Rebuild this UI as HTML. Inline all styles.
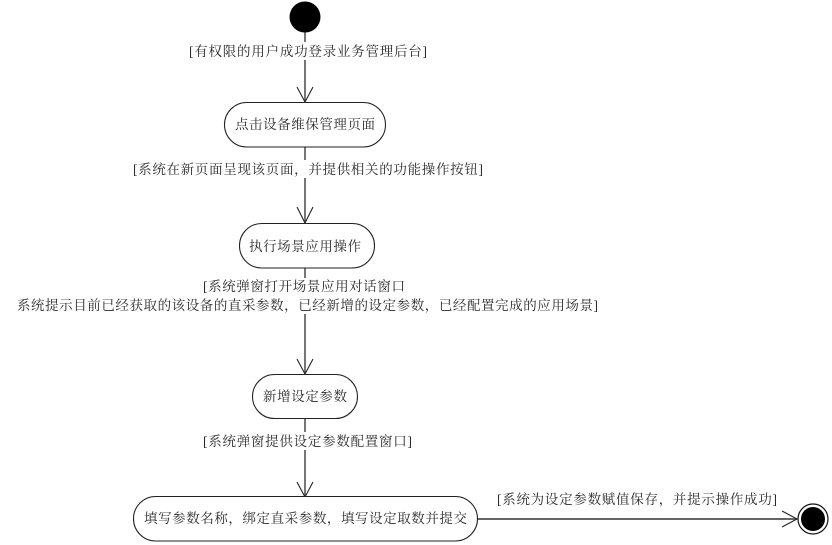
<!DOCTYPE html>
<html>
<head>
<meta charset="utf-8">
<style>
html,body{margin:0;padding:0;background:#fff;width:832px;height:545px;overflow:hidden}
svg{display:block}
text{font-family:"Liberation Serif","Noto Serif CJK SC",serif;font-size:13.5px;fill:#2a2a2a}
</style>
</head>
<body>
<svg width="832" height="545" viewBox="0 0 832 545" xmlns="http://www.w3.org/2000/svg">
<g stroke="#555" stroke-width="1.6" fill="none">
<path d="M305 32V42M305 60V101"/>
<path d="M305 147V160M305 178V222"/>
<path d="M305 268V278M305 314V373"/>
<path d="M305 418V432M305 450V496"/>
</g>
<path d="M478 519H797" stroke="#666" stroke-width="2" fill="none"/>
<g stroke="#222" stroke-width="1.1" fill="none">
<path d="M297 87L305 102L313 87"/>
<path d="M297 207L305 223L313 207"/>
<path d="M297 359L305 374L313 359"/>
<path d="M297 482L305 497L313 482"/>
<path d="M782 511L797 519L782 527"/>
</g>
<circle cx="305" cy="17" r="15.5" fill="#000"/>
<circle cx="813" cy="519" r="15" fill="#fff" stroke="#111" stroke-width="1.2"/>
<circle cx="813" cy="519" r="12" fill="#000"/>
<g fill="#fff" stroke="#222" stroke-width="1.1">
<rect x="224.5" y="102.5" width="161" height="44.5" rx="22.2" ry="22.2"/>
<rect x="239.5" y="223.5" width="135" height="44.5" rx="22.2" ry="22.2"/>
<rect x="252.5" y="374.5" width="105" height="44" rx="22" ry="22"/>
<rect x="133.5" y="496.5" width="344" height="44.5" rx="22.2" ry="22.2"/>
</g>
<text x="189" y="56" textLength="238" lengthAdjust="spacing">[有权限的用户成功登录业务管理后台]</text>
<text x="235" y="129" textLength="140" lengthAdjust="spacing">点击设备维保管理页面</text>
<text x="133" y="174" textLength="350" lengthAdjust="spacing">[系统在新页面呈现该页面&#xFF0C;并提供相关的功能操作按钮]</text>
<text x="249" y="251" textLength="112" lengthAdjust="spacing">执行场景应用操作</text>
<text x="203" y="291" textLength="202" lengthAdjust="spacing">[系统弹窗打开场景应用对话窗口</text>
<text x="17" y="310" textLength="581" lengthAdjust="spacing">系统提示目前已经获取的该设备的直采参数&#xFF0C;已经新增的设定参数&#xFF0C;已经配置完成的应用场景]</text>
<text x="263" y="401" textLength="84" lengthAdjust="spacing">新增设定参数</text>
<text x="203" y="446" textLength="209" lengthAdjust="spacing">[系统弹窗提供设定参数配置窗口]</text>
<text x="497" y="504" textLength="280" lengthAdjust="spacing">[系统为设定参数赋值保存&#xFF0C;并提示操作成功]</text>
<text x="144" y="523" textLength="323" lengthAdjust="spacing">填写参数名称&#xFF0C;绑定直采参数&#xFF0C;填写设定取数并提交</text>
</svg>
</body>
</html>
